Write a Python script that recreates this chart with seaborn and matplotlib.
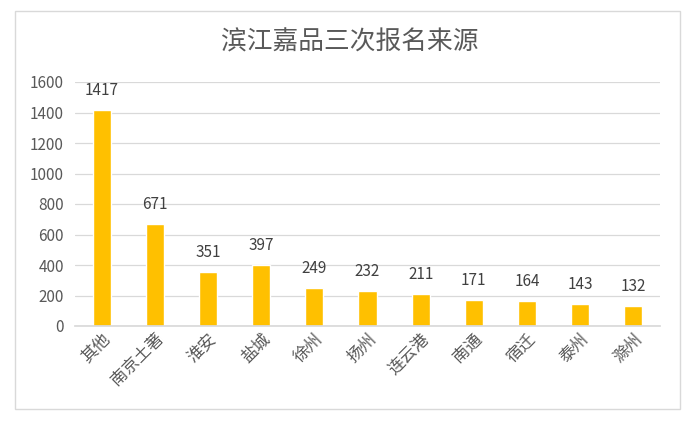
import matplotlib
matplotlib.use("Agg")
import matplotlib.pyplot as plt
import seaborn as sns
import pandas as pd
from matplotlib.patches import Rectangle

categories = ["其他", "南京土著", "淮安", "盐城", "徐州", "扬州", "连云港", "南通", "宿迁", "泰州", "滁州"]
values = [1417, 671, 351, 397, 249, 232, 211, 171, 164, 143, 132]
yticks = [0, 200, 400, 600, 800, 1000, 1200, 1400, 1600]
title = "滨江嘉品三次报名来源"

sns.set_theme(style="white")
plt.rcParams['font.family'] = ['Noto Sans CJK SC', 'DejaVu Sans']

df = pd.DataFrame({"cat": categories, "val": values})

fig = plt.figure(figsize=(6.99, 4.21), dpi=100)
fig.patches.append(Rectangle((15/699, 1-409/421), 665/699, 398/421, transform=fig.transFigure,
                             fill=False, edgecolor="#d9d9d9", linewidth=1.0))
ax = fig.add_axes([75/699, 1-326/421, 585/699, 244/421])
sns.barplot(data=df, x="cat", y="val", color="#FFC000", width=0.34, ax=ax, saturation=1)
ax.set_ylim(0, 1600)
ax.set_yticks(yticks)
ax.set_xlim(-0.5, len(categories) - 0.5)
ax.yaxis.grid(True, color="#d9d9d9", linewidth=0.9)
ax.set_axisbelow(True)
for s in ["top", "right", "left"]:
    ax.spines[s].set_visible(False)
ax.spines["bottom"].set_color("#d9d9d9")
ax.set_xlabel("")
ax.set_ylabel("")
ax.tick_params(axis="y", colors="#595959", labelsize=11, length=0, pad=8)
ax.tick_params(axis="x", colors="#595959", labelsize=12, length=0, pad=3)
for lbl in ax.get_xticklabels():
    lbl.set_rotation(45)
    lbl.set_ha("right")
    lbl.set_rotation_mode("anchor")
for i, v in enumerate(values):
    ax.annotate(str(v), (i, v), xytext=(0, 8), textcoords="offset points",
                ha="center", va="bottom", color="#404040", fontsize=11)
fig.text(0.5, 1-42/421, title, ha="center", va="center", fontsize=18.5, color="#595959")
fig.savefig("out.png", dpi=100)
